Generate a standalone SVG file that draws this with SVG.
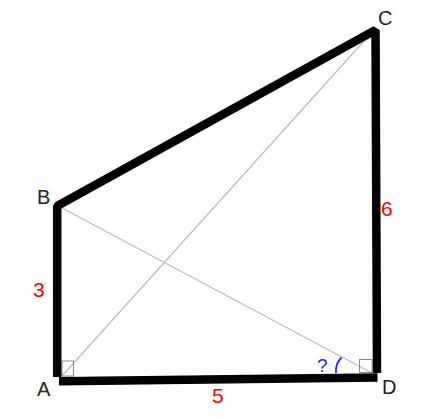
<svg xmlns="http://www.w3.org/2000/svg" width="422" height="419" viewBox="0 0 422 419">
<style>
.thick{fill:none;stroke:#000;stroke-width:8.5;stroke-linecap:butt;stroke-linejoin:bevel}
.thin{fill:none;stroke:#bbb;stroke-width:1.2}
.sq{fill:none;stroke:#888;stroke-width:1}
.lbl{font-family:"Liberation Sans",Arial,sans-serif;font-size:20px;fill:#222}
.num{font-family:"Liberation Sans",Arial,sans-serif;font-size:21px;fill:#f00}
.q{font-family:"Liberation Sans",Arial,sans-serif;font-size:19px;fill:#22f}
</style>
<rect width="422" height="419" fill="#fff"/>
<g id="connectors">
<line class="thin" x1="62" y1="376" x2="373" y2="31"/>
<line class="thin" x1="62" y1="208" x2="372" y2="373"/>
<rect class="sq" x="62" y="361" width="11.5" height="15"/>
<rect class="sq" x="359.5" y="359.5" width="12.5" height="13"/>
<polyline class="thick" points="57.2,377 57.2,206 375.5,30 377,373"/>
<line class="thick" x1="59" y1="381.3" x2="377.5" y2="377.5"/>
<path d="M341.5,357.5 Q335,364 336,373" fill="none" stroke="#22f" stroke-width="1.8"/>
</g>
<g id="A"><text class="lbl" x="37" y="396">A</text></g>
<g id="B"><text class="lbl" x="37" y="204">B</text></g>
<g id="C"><text class="lbl" x="378" y="25">C</text></g>
<g id="D"><text class="lbl" x="382" y="394">D</text></g>
<g id="labels">
<text class="num" x="33" y="297">3</text>
<text class="num" x="381" y="216">6</text>
<text class="num" x="212" y="403">5</text>
<text class="q" x="317" y="372">?</text>
</g>
</svg>
